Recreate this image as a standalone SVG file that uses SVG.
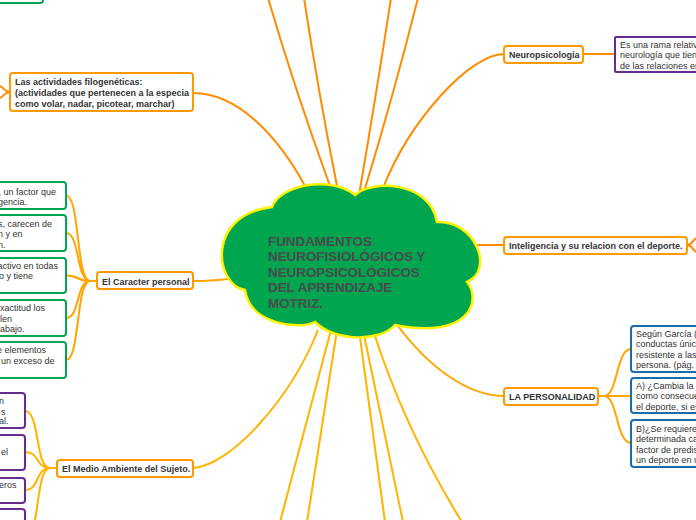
<svg xmlns="http://www.w3.org/2000/svg" width="696" height="520" viewBox="0 0 696 520">
<style>
text{font-family:"Liberation Sans",Arial,sans-serif;font-size:9px;fill:#333}
.b{font-weight:bold}
.box{fill:#fff;stroke-width:2}
.o{stroke:#ff9900}
.g{stroke:#00a651}
.p{stroke:#662d91}
.u{stroke:#1b6cad}
.c{fill:none;stroke-width:2}
.c1{stroke:#ff8c00}
.c2{stroke:#ffa500}
.c3{stroke:#ffb400}
.title{font-size:13.4px;font-weight:bold;fill:#4a4a4a}
</style>
<g id="connectors" class="c">
<path class="c1" d="M193,93 C240,93 280,140 305,186"/>
<path class="c1" d="M10,92 C5,92 4,88 0,86 M10,92 C5,92 4,96 0,98"/>
<path class="c1" d="M268,-2 Q295,90 330,186"/>
<path class="c1" d="M304,-2 Q318,90 337,186"/>
<path class="c1" d="M391,-2 Q377,90 359,195"/>
<path class="c1" d="M418,-2 Q395,90 364,192"/>
<path class="c1" d="M504,54 C470,54 410,120 383,188"/>
<path class="c1" d="M583,54 L615,54"/>
<path class="c1" d="M470,245 L504,245"/>
<path class="c1" d="M687,245 C692,245 693,240 696,238 M687,245 C692,245 693,250 696,252"/>
<path class="c2" d="M193,281 C215,281 225,279 244,277"/>
<path class="c2" d="M97,281 L90,281 M90,281 C76,281 80,195.5 66,195.5 M90,281 C76,281 80,233 66,233 M90,281 C76,281 80,275.5 66,275.5 M90,281 C76,281 80,318 66,318 M90,281 C76,281 80,360 66,360"/>
<path class="c3" d="M193,468 C230,466 290,400 318,330"/>
<path class="c3" d="M57,468 L50,468 M50,468 C35,468 40,411 25,411 M50,468 C35,468 40,452 25,452 M50,468 C35,468 40,490 25,490 M50,468 C35,468 40,540 25,540"/>
<path class="c3" d="M331,330 L280,522"/>
<path class="c3" d="M337,330 L307,522"/>
<path class="c3" d="M359,330 L385,522"/>
<path class="c3" d="M363,330 L403,522"/>
<path class="c3" d="M373,330 Q405,430 462,522"/>
<path class="c2" d="M395,322 C430,370 470,396 504,396"/>
<path class="c2" d="M598,396 L604,396 M604,396 C618,396 616,349 631,349 M604,396 L631,396 M604,396 C618,396 616,443 631,443"/>
</g>
<g id="center">
<path d="M245,290 C215,285 205,215 272,207 C280,185 330,175 355,195 C370,180 430,180 437,222 C475,220 495,270 467,282 C482,300 470,340 395,325 C380,342 335,342 315,322 C300,330 250,325 245,290 Z" fill="#00a550" stroke="#fff200" stroke-width="2.5"/>
<text class="title" x="268" y="245.5">FUNDAMENTOS</text>
<text class="title" x="268" y="261">NEUROFISIOLÓGICOS Y</text>
<text class="title" x="268" y="276.5">NEUROPSICOLÓGICOS</text>
<text class="title" x="268" y="292">DEL APRENDIZAJE</text>
<text class="title" x="268" y="307.5">MOTRIZ.</text>
</g>
<g id="top-green">
<rect class="box g" x="-60" y="-30" width="103" height="33" rx="3"/>
</g>
<g id="filogeneticas">
<rect class="box o" x="10" y="73" width="183" height="38" rx="3"/>
<text class="b" x="15" y="85">Las actividades filogenéticas:</text>
<text class="b" x="15" y="96">(actividades que pertenecen a la especia</text>
<text class="b" x="15" y="107">como volar, nadar, picotear, marchar)</text>
</g>
<g id="caracter">
<rect class="box o" x="97" y="272" width="96" height="17" rx="3"/>
<text class="b" x="102" y="284.5">El Caracter personal</text>
</g>
<g id="car1">
<rect class="box g" x="-60" y="182" width="126" height="27" rx="3"/>
<text x="-1.5" y="194.5">, un factor que</text>
<text x="-2" y="204.5">gencia.</text>
</g>
<g id="car2">
<rect class="box g" x="-60" y="215" width="126" height="36" rx="3"/>
<text x="-2" y="226.5">s, carecen de</text>
<text x="-2" y="237">n y en</text>
<text x="-2" y="247.5">n.</text>
</g>
<g id="car3">
<rect class="box g" x="-60" y="258" width="126" height="35" rx="3"/>
<text x="-2.5" y="268.5">activo en todas</text>
<text x="-1" y="279">o y tiene</text>
</g>
<g id="car4">
<rect class="box g" x="-60" y="300" width="126" height="36" rx="3"/>
<text x="0" y="311">xactitud los</text>
<text x="0" y="321.5">len</text>
<text x="0" y="332">abajo.</text>
</g>
<g id="car5">
<rect class="box g" x="-60" y="342" width="126" height="36" rx="3"/>
<text x="-3" y="352.5">e elementos</text>
<text x="1" y="363.5">un exceso de</text>
</g>
<g id="medio">
<rect class="box o" x="57" y="460" width="136" height="17" rx="3"/>
<text class="b" x="62" y="471.5">El Medio Ambiente del Sujeto.</text>
</g>
<g id="med1">
<rect class="box p" x="-60" y="393" width="85" height="35" rx="3"/>
<text x="-1" y="404">n</text>
<text x="1" y="414.5">s</text>
<text x="-1" y="424">al.</text>
</g>
<g id="med2">
<rect class="box p" x="-60" y="435" width="85" height="35" rx="3"/>
<text x="1" y="455">el</text>
</g>
<g id="med3">
<rect class="box p" x="-60" y="478" width="85" height="25" rx="3"/>
<text x="-1" y="488">eros</text>
</g>
<g id="med4">
<rect class="box p" x="-60" y="509" width="85" height="40" rx="3"/>
</g>
<g id="neuropsicologia">
<rect class="box o" x="504" y="46" width="79" height="17" rx="3"/>
<text class="b" x="509" y="57.5">Neuropsicología</text>
</g>
<g id="neuro-def">
<rect class="box p" x="615" y="37" width="120" height="35" rx="1"/>
<text x="620" y="47.5">Es una rama relativa de la</text>
<text x="620" y="58">neurología que tiene</text>
<text x="620" y="68.5">de las relaciones entre</text>
</g>
<g id="inteligencia">
<rect class="box o" x="504" y="237" width="183" height="17" rx="3"/>
<text class="b" x="509" y="248.5">Inteligencia y su relacion con el deporte.</text>
</g>
<g id="personalidad">
<rect class="box o" x="504" y="388" width="94" height="17" rx="3"/>
<text class="b" x="509" y="399.5">LA PERSONALIDAD</text>
</g>
<g id="per1">
<rect class="box u" x="631" y="326" width="110" height="46" rx="3"/>
<text x="636" y="336.5">Según García (</text>
<text x="636" y="347">conductas únic</text>
<text x="636" y="357.5">resistente a las</text>
<text x="636" y="368">persona. (pág.</text>
</g>
<g id="per2">
<rect class="box u" x="631" y="378" width="110" height="35" rx="3"/>
<text x="636" y="388.5">A) ¿Cambia la p</text>
<text x="636" y="399">como consecue</text>
<text x="636" y="409.5">el deporte, si es</text>
</g>
<g id="per3">
<rect class="box u" x="631" y="420" width="110" height="47" rx="3"/>
<text x="636" y="431.5">B)¿Se requiere</text>
<text x="636" y="442">determinada ca</text>
<text x="636" y="452.5">factor de predis</text>
<text x="636" y="463">un deporte en u</text>
</g>
</svg>
